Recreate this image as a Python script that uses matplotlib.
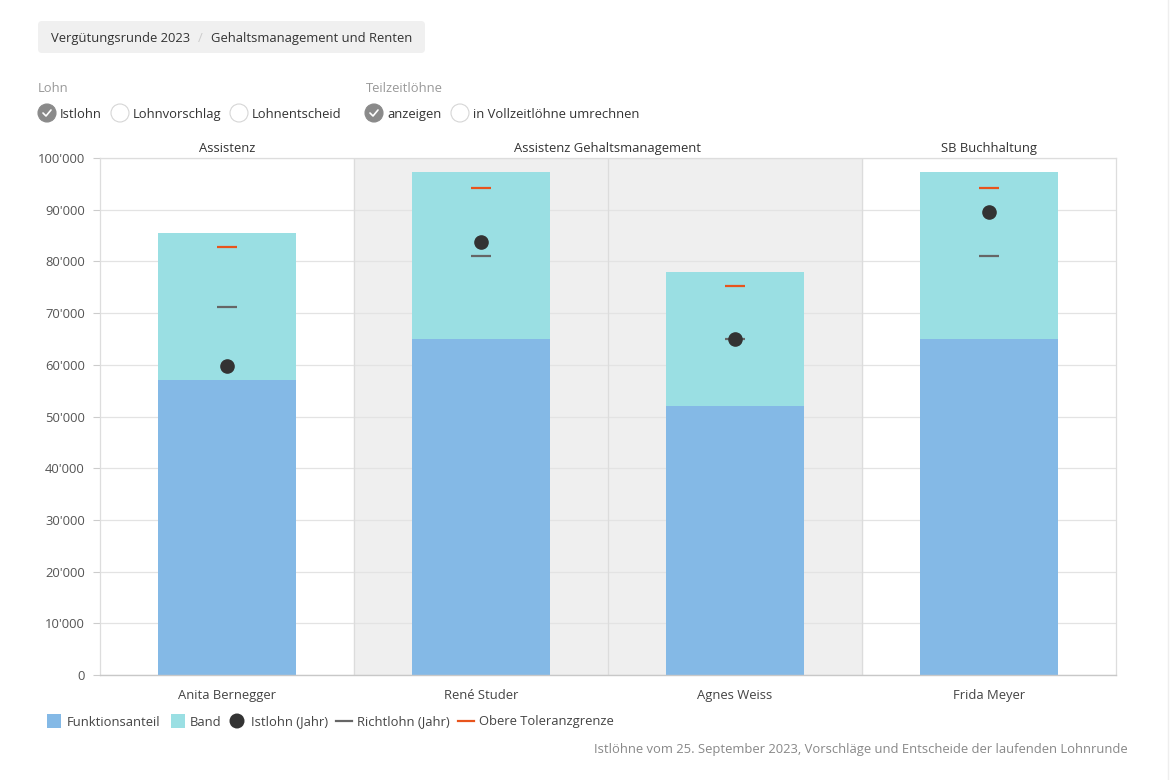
import numpy as np
import matplotlib
matplotlib.use("Agg")
import matplotlib.pyplot as plt
from matplotlib.patches import FancyBboxPatch, Circle, Rectangle
from matplotlib.ticker import FuncFormatter

plt.rcParams['font.family'] = ['Open Sans', 'DejaVu Sans']
FS = 9.35

# data
personen = ["Anita Bernegger", "René Studer", "Agnes Weiss", "Frida Meyer"]
gruppen = ["Assistenz", "Assistenz Gehaltsmanagement", "SB Buchhaltung"]
gruppen_spalten = [(0, 0), (1, 2), (3, 3)]
funktionsanteil = [57000, 65000, 52000, 65000]
band_oben = [85500, 97300, 77900, 97300]
istlohn = [59800, 83700, 65000, 89600]
richtlohn = [71200, 81000, 65000, 81000]
obere_toleranz = [82800, 94200, 75200, 94200]

c_funk = "#84b9e6"
c_band = "#9adfe3"
c_ist = "#333333"
c_richt = "#666666"
c_obere = "#e8541c"

W, H = 1170, 780
fig = plt.figure(figsize=(W / 100, H / 100), dpi=100)

ax = fig.add_axes([100 / W, 1 - 675 / H, (1116 - 100) / W, (675 - 158) / H])
x = np.arange(len(personen))
band_h = np.array(band_oben) - np.array(funktionsanteil)

ax.axvspan(0.5, 2.5, color="#efefef", zorder=0)
ax.bar(x, funktionsanteil, width=0.54, color=c_funk, zorder=2)
ax.bar(x, band_h, bottom=funktionsanteil, width=0.54, color=c_band, zorder=2)
ax.hlines(richtlohn, x - 0.04, x + 0.04, color=c_richt, lw=1.6, zorder=3)
ax.hlines(obere_toleranz, x - 0.04, x + 0.04, color=c_obere, lw=1.6, zorder=3)
ax.plot(x, istlohn, "o", color=c_ist, ms=9.5, zorder=4)

ax.set_xlim(-0.5, 3.5)
ax.set_ylim(0, 100000)
ax.set_yticks(np.arange(0, 100001, 10000))
ax.yaxis.set_major_formatter(FuncFormatter(lambda v, p: f"{int(v):,}".replace(",", "'")))
ax.set_xticks(x)
ax.set_xticklabels(personen)
ax.tick_params(axis="x", length=0, pad=10, labelsize=FS, colors="#444444")
ax.tick_params(axis="y", length=5, width=0.8, color="#cccccc", pad=6, labelsize=FS, labelcolor="#555555")
ax.grid(axis="y", color="#e3e3e3", lw=0.9, zorder=1)
ax.set_axisbelow(True)
for s in ["left", "right", "top"]:
    ax.spines[s].set_color("#dddddd")
    ax.spines[s].set_linewidth(0.9)
ax.spines["bottom"].set_color("#c8c8c8")
ax.spines["bottom"].set_linewidth(1.0)
for xv in [0.5, 1.5, 2.5]:
    ax.axvline(xv, color="#dcdcdc", lw=0.9, zorder=1)

for name, (a, b) in zip(gruppen, gruppen_spalten):
    ax.text((a + b) / 2, 1.018, name, transform=ax.get_xaxis_transform(),
            ha="center", va="center", fontsize=FS, color="#333333")

# overlay in pixel coordinates for controls and legend
ov = fig.add_axes([0, 0, 1, 1], zorder=5)
ov.set_xlim(0, W)
ov.set_ylim(H, 0)
ov.axis("off")
ov.patch.set_alpha(0)

ov.add_patch(FancyBboxPatch((38, 21), 387, 32, boxstyle="round,pad=0,rounding_size=4",
                            fc="#f0f0f0", ec="none"))
ov.text(51, 38.5, "Vergütungsrunde 2023", fontsize=FS, color="#333333", va="center")
ov.text(198, 38.5, "/", fontsize=FS, color="#cccccc", va="center")
ov.text(211, 38.5, "Gehaltsmanagement und Renten", fontsize=FS, color="#333333", va="center")

ov.text(38, 88, "Lohn", fontsize=FS, color="#999999", va="center")
ov.text(366, 88, "Teilzeitlöhne", fontsize=FS, color="#999999", va="center")


def radio(cx, cy, label, checked):
    if checked:
        ov.add_patch(Circle((cx, cy), 9, fc="#8a8a8a", ec="#8a8a8a", lw=0.8))
        ov.plot([cx - 4, cx - 1, cx + 4], [cy, cy + 3, cy - 3], color="white", lw=1.2,
                solid_capstyle="round")
    else:
        ov.add_patch(Circle((cx, cy), 9, fc="white", ec="#d6d6d6", lw=0.8))
    ov.text(cx + 13, cy + 1.5, label, fontsize=FS, color="#333333", va="center")


radio(47, 113, "Istlohn", True)
radio(120, 113, "Lohnvorschlag", False)
radio(239, 113, "Lohnentscheid", False)
radio(374, 113, "anzeigen", True)
radio(460, 113, "in Vollzeitlöhne umrechnen", False)

# legend
ly = 721
ov.add_patch(Rectangle((47, ly - 7), 14, 14, fc=c_funk, ec="none"))
ov.text(67, ly + 1, "Funktionsanteil", fontsize=FS, color="#444444", va="center")
ov.add_patch(Rectangle((171, ly - 7), 14, 14, fc=c_band, ec="none"))
ov.text(190, ly + 1, "Band", fontsize=FS, color="#444444", va="center")
ov.add_patch(Circle((237, ly), 7.5, fc=c_ist, ec="none"))
ov.text(251, ly + 1, "Istlohn (Jahr)", fontsize=FS, color="#444444", va="center")
ov.plot([336, 352], [ly, ly], color=c_richt, lw=1.6)
ov.text(357, ly + 1, "Richtlohn (Jahr)", fontsize=FS, color="#444444", va="center")
ov.plot([458, 474], [ly, ly], color=c_obere, lw=1.6)
ov.text(479, ly + 1, "Obere Toleranzgrenze", fontsize=FS, color="#444444", va="center")

ov.text(1128, 749, "Istlöhne vom 25. September 2023, Vorschläge und Entscheide der laufenden Lohnrunde",
        fontsize=FS, color="#888888", ha="right", va="center")
ov.plot([1168, 1168], [0, H], color="#eeeeee", lw=1)

fig.savefig("out.png", dpi=100)
